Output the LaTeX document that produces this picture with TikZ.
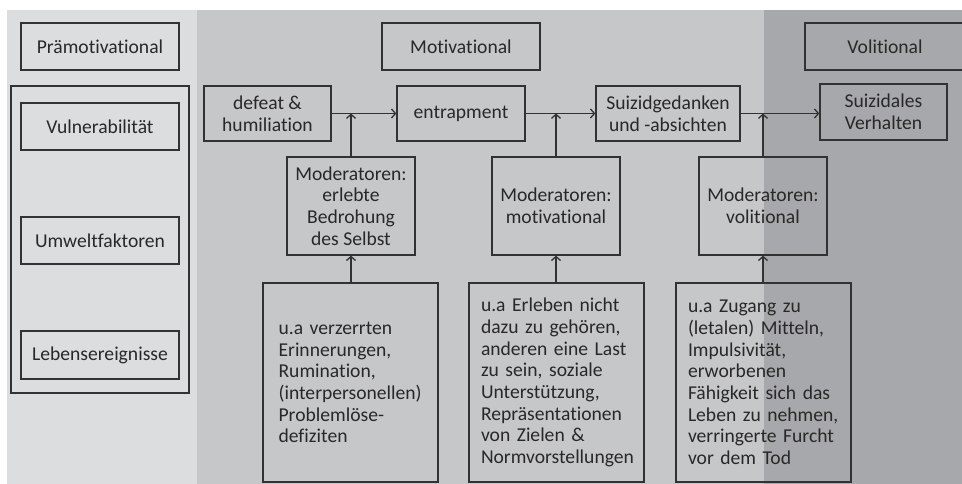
\documentclass[tikz,border=0pt]{standalone}
\usepackage{fontspec}
\setmainfont{Carlito}[Ligatures={NoCommon}]
\usetikzlibrary{arrows.meta}
\definecolor{bgA}{RGB}{220,221,223}
\definecolor{bgB}{RGB}{198,199,201}
\definecolor{bgC}{RGB}{167,168,171}
\definecolor{linec}{RGB}{50,50,50}
\definecolor{textc}{RGB}{40,40,40}
\newcommand{\dfont}{\fontsize{19.6}{21.7}\selectfont}
\begin{document}
\begin{tikzpicture}[x=1pt,y=-1pt,
  box/.style={draw=linec, line width=1.3pt, inner sep=0pt, align=center, font=\dfont, text=textc},
  lbox/.style={box, align=left, inner xsep=#1},
  arr/.style={draw=linec, line width=1.3pt, -{Straight Barb[length=4pt,width=9pt]}}]
\useasboundingbox (0,0) rectangle (962,484);
\fill[bgA] (7,10) rectangle (197,484);
\fill[bgB] (197,10) rectangle (764,484);
\fill[bgC] (764,10) rectangle (962,484);
% left column
\node[box, minimum width=158pt, minimum height=47pt] (pm) at (100,46.5) {Prämotivational};
\node[box, minimum width=178pt, minimum height=307pt] (outer) at (100,239.5) {};
\node[box, minimum width=158pt, minimum height=47pt] (vu) at (100,126.5) {Vulnerabilität};
\node[box, minimum width=158pt, minimum height=47pt] (uw) at (100,240.5) {Umweltfaktoren};
\node[box, minimum width=158pt, minimum height=48pt] (le) at (100,355) {Lebensereignisse};
% headers
\node[box, minimum width=158pt, minimum height=47pt] (mo) at (461,46.5) {Motivational};
\node[box, minimum width=160pt, minimum height=47pt] (vo) at (885,46.5) {Volitional};
% main chain
\node[box, minimum width=127pt, minimum height=55pt] (de) at (267.5,113.5) {defeat \&\\humiliation};
\node[box, minimum width=128pt, minimum height=55pt] (en) at (461,113.5) {entrapment};
\node[box, minimum width=144pt, minimum height=55pt] (sg) at (668,113.5) {Suizidgedanken\\und -absichten};
\node[box, minimum width=127pt, minimum height=56pt] (sv) at (883.5,112) {Suizidales\\Verhalten};
% moderators
\node[box, minimum width=128pt, minimum height=98pt] (m1) at (351,206) {Moderatoren:\\erlebte\\Bedrohung\\des Selbst};
\node[box, minimum width=128pt, minimum height=98pt] (m2) at (556,206) {Moderatoren:\\motivational};
\node[box, minimum width=128pt, minimum height=98pt] (m3) at (763,206) {Moderatoren:\\volitional};
% bottom boxes
\node[lbox=15.6pt, text width=143.8pt, minimum height=199pt] (b1) at (350.5,382.5) {u.a verzerrten\\Erinnerungen,\\Rumination,\\(interpersonellen)\\Problemlöse-\\defiziten};
\node[lbox=12pt, text width=151pt, minimum height=199pt] (b2) at (556.5,382.5) {u.a Erleben nicht\\dazu zu gehören,\\anderen eine Last\\zu sein, soziale\\Unterstützung,\\Repräsentationen\\von Zielen \&\\Normvorstellungen};
\node[lbox=12pt, text width=151pt, minimum height=199pt] (b3) at (763.5,382.5) {u.a Zugang zu\\(letalen) Mitteln,\\Impulsivität,\\erworbenen\\Fähigkeit sich das\\Leben zu nehmen,\\verringerte Furcht\\vor dem Tod};
% connectors
\draw[arr] (de.east) -- (en.west);
\draw[arr] (en.east) -- (sg.west);
\draw[arr] (sg.east) -- (sg.east -| sv.west);
\draw[arr] (m1.north) -- (m1.north |- de.east);
\draw[arr] (m2.north) -- (m2.north |- en.east);
\draw[arr] (m3.north) -- (m3.north |- sg.east);
\draw[arr] (m1.south |- b1.north) -- (m1.south);
\draw[arr] (m2.south |- b2.north) -- (m2.south);
\draw[arr] (m3.south |- b3.north) -- (m3.south);
\end{tikzpicture}
\end{document}
